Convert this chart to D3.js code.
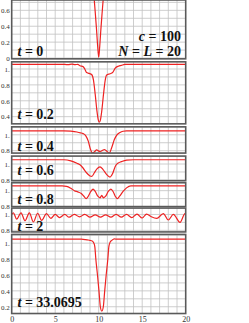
<!DOCTYPE html>
<html>
<head>
<meta charset="utf-8">
<script src="https://cdn.jsdelivr.net/npm/d3@7"></script>
<style>
  body { margin: 0; background: #fff; }
  svg { display: block; }
  .lbl { font-family: "Liberation Serif", serif; font-weight: bold; fill: #111; }
  .tick text { font-family: "Liberation Serif", serif; fill: #333; }
</style>
</head>
<body>
<div id="chart"></div>
<script>
// panel labels and y windows
var times = ["0", "0.2", "0.4", "0.6", "0.8", "2", "33.0695"];
var yLo = [-0.01, 0.31, 0.77, 0.79, 0.80, 0.78, 0.115];
var yHi = [0.73, 1.09, 1.10, 1.10, 1.10, 1.08, 1.11];
var yTickVals = [[0, 0.2, 0.4, 0.6], [0.4, 0.6, 0.8, 1], [0.8, 1], [0.8, 1], [0.8, 1], [0.8, 1], [0.2, 0.4, 0.6, 0.8, 1]];
var xTickVals = [0, 5, 10, 15, 20];

// density, one series per panel
var x0 = [0, 9.0, 9.2, 9.3, 9.49, 9.62, 9.75, 9.88, 10.0, 10.12, 10.25, 10.38, 10.51, 10.7, 10.8, 11.0, 20];
var y0 = [1.05, 1.05, 1.03, 0.97, 0.73, 0.55, 0.36, 0.15, 0.01, 0.15, 0.36, 0.55, 0.73, 0.97, 1.03, 1.05, 1.05];

var x1 = [0, 5.5, 6.1, 6.5, 6.9, 7.3, 7.6, 7.85, 8.2, 8.4, 8.6, 8.9, 9.19, 9.4, 9.6, 9.8, 9.95, 10.07, 10.2, 10.35, 10.55, 10.75, 10.92, 11.3, 11.6, 11.9, 12.26, 12.6, 13.0, 13.5, 20];
var y1 = [1.058, 1.058, 1.058, 1.054, 1.062, 1.055, 1.058, 1.04, 1.03, 1.0, 0.955, 0.945, 0.93, 0.86, 0.68, 0.47, 0.36, 0.33, 0.36, 0.47, 0.68, 0.86, 0.925, 0.94, 0.955, 1.01, 1.035, 1.045, 1.058, 1.058, 1.058];

var x2 = [0, 6.0, 6.8, 7.5, 7.9, 8.2, 8.5, 8.8, 9.05, 9.27, 9.5, 9.77, 10.0, 10.2, 10.45, 10.65, 10.9, 11.22, 11.5, 11.8, 12.1, 12.45, 12.8, 13.2, 20];
var y2 = [1.05, 1.05, 1.045, 1.035, 1.025, 1.015, 0.99, 0.92, 0.82, 0.77, 0.785, 0.81, 0.795, 0.79, 0.805, 0.815, 0.795, 0.77, 0.84, 0.94, 1.0, 1.03, 1.045, 1.05, 1.05];

var x3 = [0, 6.0, 6.8, 7.5, 7.85, 8.2, 8.6, 9.0, 9.2, 9.5, 9.8, 10.15, 10.5, 10.9, 11.3, 11.6, 11.9, 12.2, 12.6, 13.2, 14, 20];
var y3 = [1.054, 1.054, 1.04, 1.01, 0.99, 0.95, 0.89, 0.85, 0.845, 0.89, 0.94, 0.965, 0.93, 0.87, 0.836, 0.88, 0.97, 1.01, 1.03, 1.05, 1.054, 1.054];

var x4 = [0, 5.8, 6.3, 6.8, 7.2, 7.6, 8.0, 8.3, 8.55, 8.8, 9.1, 9.35, 9.6, 9.9, 10.15, 10.35, 10.55, 10.8, 11.1, 11.4, 11.65, 11.9, 12.15, 12.4, 12.8, 13.2, 13.7, 20];
var y4 = [1.06, 1.06, 1.055, 1.03, 1.0, 0.985, 0.965, 0.93, 0.9, 0.93, 0.99, 1.02, 0.99, 0.93, 0.91, 0.94, 0.91, 0.93, 0.99, 1.02, 0.99, 0.93, 0.9, 0.93, 0.99, 1.035, 1.06, 1.06];

var x5 = [0, 0.2, 0.57, 1.07, 1.53, 2.03, 2.49, 2.98, 3.44, 4.0, 4.5, 5.0, 5.5, 6.1, 6.6, 7.2, 7.8, 8.4, 9.0, 9.6, 10.2, 10.8, 11.4, 12.0, 12.6, 13.2, 13.8, 14.4, 15.0, 15.5, 16.05, 16.67, 17.43, 18.0, 18.58, 19.35, 19.92, 20];
var y5 = [1.0, 1.02, 0.94, 1.02, 0.92, 1.02, 0.905, 1.015, 0.925, 1.01, 0.95, 1.0, 0.96, 1.0, 0.965, 1.0, 0.97, 1.0, 0.965, 0.995, 0.965, 0.995, 0.965, 1.0, 0.965, 1.0, 0.96, 1.005, 0.955, 1.005, 0.97, 0.95, 1.01, 0.93, 1.0, 0.9, 1.01, 1.0];

var x6 = [0, 8.0, 8.5, 8.8, 9.0, 9.2, 9.45, 9.56, 9.67, 9.86, 10.03, 10.19, 10.36, 10.53, 10.69, 10.86, 11.05, 11.16, 11.3, 11.5, 11.8, 12.0, 20];
var y6 = [1.05, 1.05, 1.045, 1.04, 1.035, 1.03, 1.0, 0.95, 0.8, 0.6, 0.4, 0.2, 0.145, 0.2, 0.4, 0.6, 0.8, 0.95, 1.01, 1.035, 1.055, 1.05, 1.05];

var seriesX = [x0, x1, x2, x3, x4, x5, x6];
var seriesY = [y0, y1, y2, y3, y4, y5, y6];

// layout
var W = 249, H = 323;
var left = 11.7, right = 185.7, top0 = 0;
var pxPerUnit = 79.5;
var gaps = [3, 3, 3, 2, 1.5, 2.5];
var lift = [3, 4.5, 2.5, 6, 3, 0.5, 7];

var svg = d3.select("#chart").append("svg").attr("width", W).attr("height", H);

var x = d3.scaleLinear().domain([0, 20]).range([left, right]);

var line = d3.line().curve(d3.curveMonotoneX);

var yTop = top0;
times.forEach(function(t, i) {
	var h = (yHi[i] - yLo[i]) * pxPerUnit;
	var y = d3.scaleLinear().domain([yLo[i], yHi[i]]).range([yTop + h, yTop]);
	var g = svg.append("g");
	var clipId = "clip" + i;
	svg.append("clipPath").attr("id", clipId)
		.append("rect").attr("x", left).attr("y", yTop).attr("width", right - left).attr("height", h);

	g.append("rect").attr("x", left).attr("y", yTop).attr("width", right - left).attr("height", h).attr("fill", "#fff");

	// grid
	var grid = g.append("g").attr("clip-path", "url(#" + clipId + ")");
	grid.selectAll("line.v").data(d3.range(1, 20)).enter().append("line")
		.attr("x1", function(d) { return x(d); }).attr("x2", function(d) { return x(d); })
		.attr("y1", yTop).attr("y2", yTop + h)
		.attr("stroke", "#c2c2c2").attr("stroke-width", 0.8);
	var hv = d3.range(Math.ceil(yLo[i] * 10), Math.floor(yHi[i] * 10) + 1).map(function(k) { return k / 10; });
	grid.selectAll("line.h").data(hv).enter().append("line")
		.attr("x1", left).attr("x2", right)
		.attr("y1", function(d) { return y(d); }).attr("y2", function(d) { return y(d); })
		.attr("stroke", "#c2c2c2").attr("stroke-width", 0.8);

	// curve
	var pts = seriesX[i].map(function(xv, j) { return [x(xv), y(seriesY[i][j])]; });
	g.append("path").attr("clip-path", "url(#" + clipId + ")")
		.attr("d", line(pts)).attr("fill", "none")
		.attr("stroke", "#ee2222").attr("stroke-width", 1.2);

	// label
	var lab = g.append("text").attr("class", "lbl").attr("x", 17.5).attr("y", yTop + h - lift[i]).attr("font-size", 14);
	lab.append("tspan").attr("font-style", "italic").text("t");
	lab.append("tspan").text(" = " + t);

	if (i === 0) {
		var c = g.append("text").attr("class", "lbl").attr("x", 181).attr("y", 40.7).attr("text-anchor", "end").attr("font-size", 14);
		c.append("tspan").attr("font-style", "italic").text("c");
		c.append("tspan").text(" = 100");
		var n = g.append("text").attr("class", "lbl").attr("x", 181).attr("y", 56).attr("text-anchor", "end").attr("font-size", 14);
		n.append("tspan").attr("font-style", "italic").text("N");
		n.append("tspan").text(" = ");
		n.append("tspan").attr("font-style", "italic").text("L");
		n.append("tspan").text(" = 20");
	}

	// frame
	g.append("rect").attr("x", left).attr("y", yTop).attr("width", right - left).attr("height", h)
		.attr("fill", "none").attr("stroke", "#5a5a5a").attr("stroke-width", 1.6);

	// y axis
	var ax = d3.axisLeft(y).tickValues(yTickVals[i]).tickSize(0).tickPadding(1.5)
		.tickFormat(function(d) { return d === 1 ? "1." : (d === 0 ? "0" : d3.format(".1f")(d)); });
	var ag = svg.append("g").attr("transform", "translate(" + (left - 0.5) + ",0)").call(ax);
	ag.select(".domain").remove();
	ag.selectAll("text").attr("font-size", 7);

	yTop += h + (i < gaps.length ? gaps[i] : 0);
});

var xa = svg.append("g").attr("transform", "translate(0," + (yTop - 0) + ")")
	.call(d3.axisBottom(x).tickValues(xTickVals).tickSize(0).tickPadding(3));
xa.select(".domain").remove();
xa.selectAll("text").attr("font-size", 8);
</script>
</body>
</html>
